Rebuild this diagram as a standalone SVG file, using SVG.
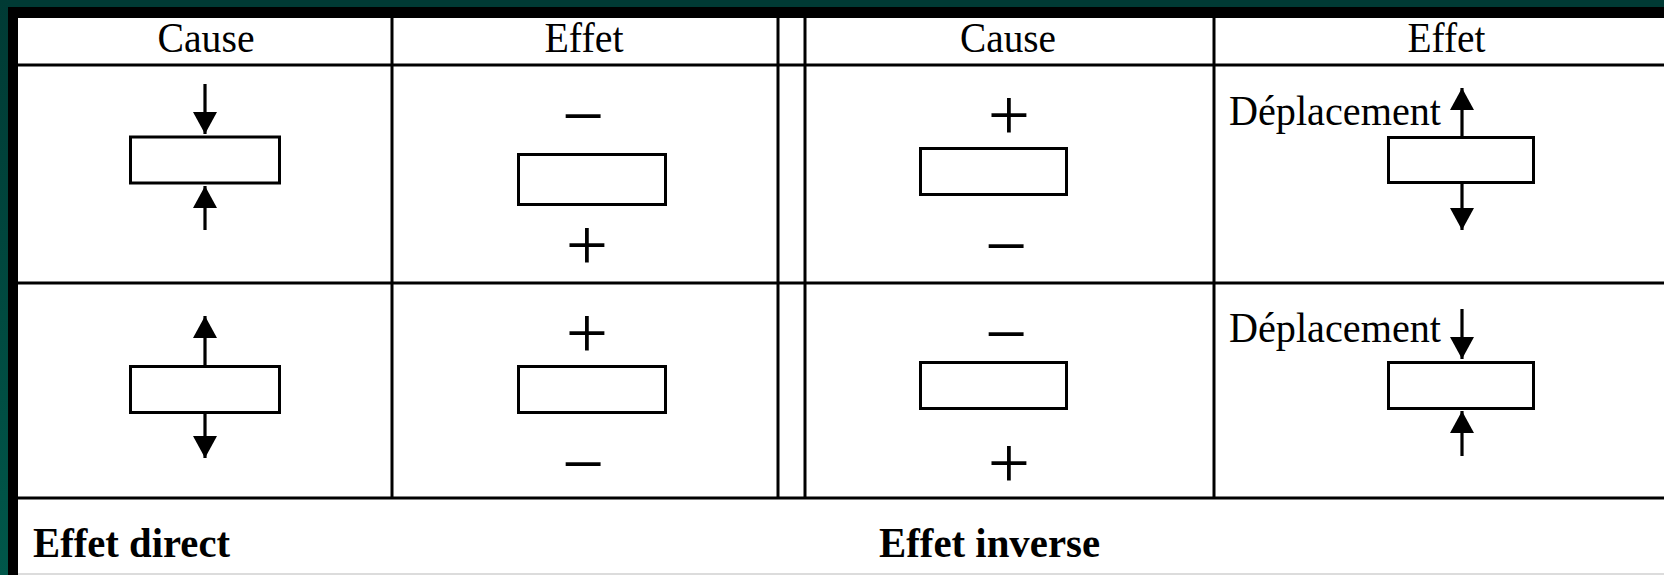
<svg xmlns="http://www.w3.org/2000/svg" width="1664" height="575" viewBox="0 0 1664 575">
  <style>
    .grid { stroke: #000; stroke-width: 3; fill: none; }
    .box { fill: #fff; stroke: #000; stroke-width: 3; }
    .arrow { stroke: #000; stroke-width: 3.2; fill: none; marker-end: url(#head); }
    .hdr { font-family: "Liberation Serif", "Times New Roman", serif; font-size: 43px; fill: #000; text-anchor: middle; }
    .lbl { font-family: "Liberation Serif", "Times New Roman", serif; font-size: 43px; fill: #000; }
    .bold { font-family: "Liberation Serif", "Times New Roman", serif; font-size: 43px; font-weight: bold; fill: #000; }
    .sign { font-family: "Liberation Serif", "Times New Roman", serif; font-size: 75px; fill: #000; text-anchor: middle; }
  </style>
  <defs>
    <marker id="head" viewBox="0 0 22 24" refX="22" refY="12" markerWidth="22" markerHeight="24" markerUnits="userSpaceOnUse" orient="auto">
      <path d="M0,0 L22,12 L0,24 Z" fill="#000"/>
    </marker>
    <linearGradient id="teal" x1="0" y1="0" x2="0" y2="1">
      <stop offset="0" stop-color="#003a34"/>
      <stop offset="1" stop-color="#00574a"/>
    </linearGradient>
  </defs>

  <!-- background and frame -->
  <rect x="0" y="0" width="1664" height="575" fill="#fff"/>
  <rect x="0" y="0" width="1664" height="7" fill="#003a34"/>
  <rect x="0" y="0" width="8" height="575" fill="url(#teal)"/>
  <rect x="8" y="7" width="1656" height="11" fill="#000"/>
  <rect x="8" y="7" width="10" height="568" fill="#000"/>
  <line x1="18" y1="574" x2="1664" y2="574" stroke="#dcdcdc" stroke-width="2"/>

  <!-- table grid -->
  <g id="grid" class="grid">
    <line x1="18" y1="65" x2="1664" y2="65"/>
    <line x1="18" y1="283" x2="1664" y2="283"/>
    <line x1="18" y1="498" x2="1664" y2="498"/>
    <line x1="392" y1="18" x2="392" y2="498"/>
    <line x1="778" y1="18" x2="778" y2="498"/>
    <line x1="805" y1="18" x2="805" y2="498"/>
    <line x1="1214" y1="18" x2="1214" y2="498"/>
  </g>

  <!-- headers -->
  <g id="headers">
    <text class="hdr" x="206" y="52" textLength="97" lengthAdjust="spacingAndGlyphs">Cause</text>
    <text class="hdr" x="584" y="52" textLength="79" lengthAdjust="spacingAndGlyphs">Effet</text>
    <text class="hdr" x="1008" y="52" textLength="96" lengthAdjust="spacingAndGlyphs">Cause</text>
    <text class="hdr" x="1446.5" y="52" textLength="78" lengthAdjust="spacingAndGlyphs">Effet</text>
  </g>

  <!-- row 1 -->
  <g id="r1c1"><rect class="box" x="130.5" y="137" width="149" height="46"/></g>
  <g id="r1c2">
    <text class="sign" x="583" y="141">−</text>
    <rect class="box" x="518.5" y="154.5" width="147" height="50"/>
    <text class="sign" x="587" y="270">+</text>
  </g>
  <g id="r1c3">
    <text class="sign" x="1009" y="140">+</text>
    <rect class="box" x="920.5" y="148.5" width="146" height="46"/>
    <text class="sign" x="1006" y="271">−</text>
  </g>
  <g id="r1c4">
    <text class="lbl" x="1229" y="125" textLength="212" lengthAdjust="spacingAndGlyphs">Déplacement</text>
    <rect class="box" x="1388.5" y="137.5" width="145" height="45"/>
  </g>

  <!-- row 2 -->
  <g id="r2c1"><rect class="box" x="130.5" y="366.5" width="149" height="46"/></g>
  <g id="r2c2">
    <text class="sign" x="587" y="358">+</text>
    <rect class="box" x="518.5" y="366.5" width="147" height="46"/>
    <text class="sign" x="583" y="489">−</text>
  </g>
  <g id="r2c3">
    <text class="sign" x="1006" y="359">−</text>
    <rect class="box" x="920.5" y="362.5" width="146" height="46"/>
    <text class="sign" x="1009" y="488">+</text>
  </g>
  <g id="r2c4">
    <text class="lbl" x="1229" y="342" textLength="212" lengthAdjust="spacingAndGlyphs">Déplacement</text>
    <rect class="box" x="1388.5" y="362.5" width="145" height="46"/>
  </g>

  <!-- footer labels -->
  <g id="footer">
    <text class="bold" x="33" y="557" textLength="197" lengthAdjust="spacingAndGlyphs">Effet direct</text>
    <text class="bold" x="879" y="557" textLength="221" lengthAdjust="spacingAndGlyphs">Effet inverse</text>
  </g>

  <!-- arrows -->
  <g id="connectors">
    <line class="arrow" x1="205" y1="84" x2="205" y2="134"/>
    <line class="arrow" x1="205" y1="230" x2="205" y2="186"/>
    <line class="arrow" x1="205" y1="365" x2="205" y2="316"/>
    <line class="arrow" x1="205" y1="414" x2="205" y2="458"/>
    <line class="arrow" x1="1462" y1="136" x2="1462" y2="88"/>
    <line class="arrow" x1="1462" y1="184" x2="1462" y2="230"/>
    <line class="arrow" x1="1462" y1="309" x2="1462" y2="359"/>
    <line class="arrow" x1="1462" y1="456" x2="1462" y2="411"/>
  </g>
</svg>
